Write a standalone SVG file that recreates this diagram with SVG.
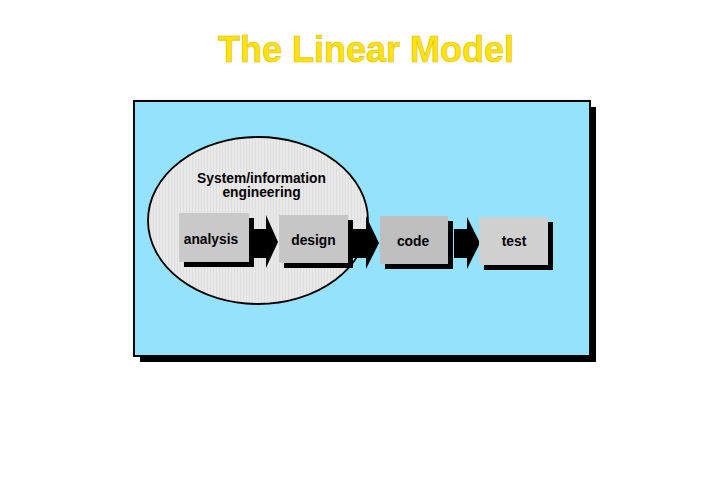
<svg xmlns="http://www.w3.org/2000/svg" width="720" height="480" viewBox="0 0 720 480">
  <defs>
    <pattern id="tex" width="3" height="3" patternUnits="userSpaceOnUse">
      <rect width="3" height="3" fill="#e9e9e9"/>
      <rect width="1" height="3" fill="#dedede"/>
    </pattern>
  </defs>
  <style>
    .lbl { font-family: "Liberation Sans", Arial, sans-serif; font-weight: bold; font-size: 13.8px; fill: #000; text-anchor: middle; }
    .title { font-family: "Liberation Sans", Arial, sans-serif; font-weight: bold; font-size: 36px; fill: #ffe30f; stroke: #d9bb00; stroke-width: 0.6; text-anchor: middle; }
    .shadow { fill: #000; }
    .arrow { fill: #000; }
  </style>
  <rect width="720" height="480" fill="#ffffff"/>
  <text class="title" x="366" y="62">The Linear Model</text>

  <g id="panel">
    <rect class="shadow" x="140" y="107" width="456" height="255"/>
    <rect x="134" y="101" width="456" height="255" fill="#95e2fc" stroke="#000" stroke-width="2"/>
  </g>

  <g id="system-information-engineering">
    <ellipse cx="258" cy="220.5" rx="110" ry="83.5" fill="url(#tex)" stroke="#000" stroke-width="1.8"/>
    <text class="lbl" x="261.5" y="183">System/information</text>
    <text class="lbl" x="261.5" y="197">engineering</text>
  </g>

  <g id="connectors">
    <polygon class="arrow" points="253,229 266,229 266,215 278,242 266,268 266,258 253,258"/>
    <polygon class="arrow" points="353,229 366,229 366,216 379,243 366,269 366,258 353,258"/>
    <polygon class="arrow" points="454,229 467,229 467,217 480,243 467,269 467,258 454,258"/>
  </g>

  <g id="analysis">
    <rect class="shadow" x="184" y="218" width="70" height="49"/>
    <rect x="179" y="213" width="70" height="49" fill="#c9c9c9"/>
    <text class="lbl" x="211" y="244">analysis</text>
  </g>

  <g id="design">
    <rect class="shadow" x="284" y="220" width="69" height="48"/>
    <rect x="279" y="215" width="69" height="48" fill="#c6c6c6"/>
    <text class="lbl" x="313.5" y="245">design</text>
  </g>

  <g id="code">
    <rect class="shadow" x="385" y="221" width="68" height="48"/>
    <rect x="380" y="216" width="68" height="48" fill="#bfbfbf"/>
    <text class="lbl" x="413" y="246">code</text>
  </g>

  <g id="test">
    <rect class="shadow" x="484" y="222" width="69" height="48"/>
    <rect x="479" y="217" width="69" height="48" fill="#d0d0d0"/>
    <text class="lbl" x="514" y="246">test</text>
  </g>
</svg>
